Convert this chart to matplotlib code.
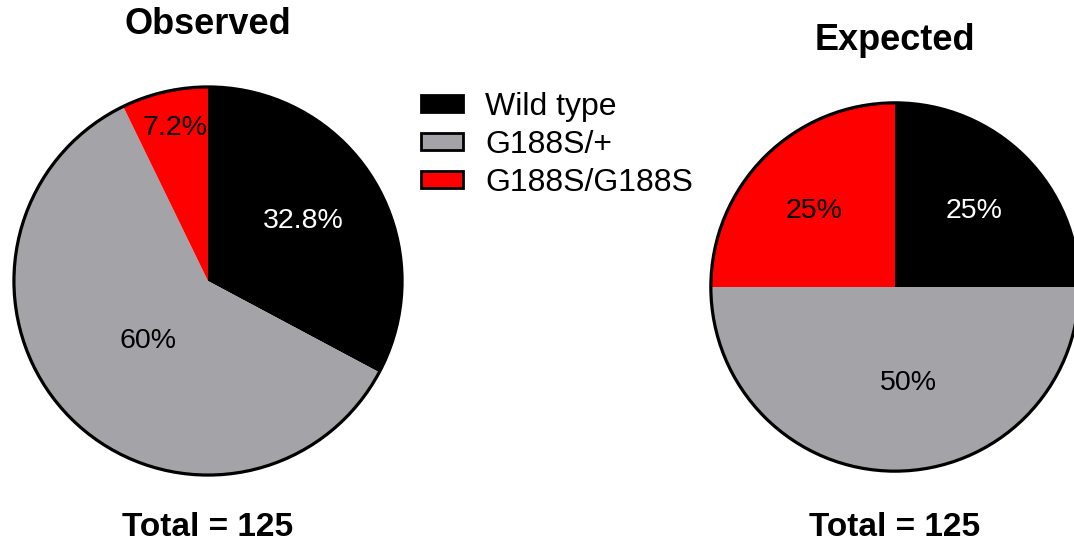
import matplotlib
matplotlib.use("Agg")
import matplotlib.pyplot as plt
from matplotlib.patches import Patch, Circle

plt.rcParams['font.family'] = ['Liberation Sans', 'DejaVu Sans']

genotypes = ["Wild type", "G188S/+", "G188S/G188S"]
colors = ["#000000", "#a4a3a7", "#ff0000"]
observed = [32.8, 60.0, 7.2]
expected = [25.0, 50.0, 25.0]
total = 125

W, H = 1074, 546
fig = plt.figure(figsize=(W / 100, H / 100), dpi=100)


def pie_axes(cx, cy, r):
    # axes box in pixels, centred on the pie, y measured from top
    return fig.add_axes([(cx - r) / W, (H - cy - r) / H, 2 * r / W, 2 * r / H])


def draw_pie(ax, values, label_pos, label_colors):
    wedges, _ = ax.pie(values, colors=colors, startangle=90, counterclock=False,
                       radius=1, wedgeprops=dict(linewidth=0))
    ax.add_patch(Circle((0, 0), 1, fill=False, edgecolor="black", linewidth=2.3))
    for v, (x, y), c in zip(values, label_pos, label_colors):
        ax.text(x, y, f"{v:g}%", color=c, fontsize=20.5, ha="center", va="center")
    ax.set_xlim(-1.01, 1.01)
    ax.set_ylim(-1.01, 1.01)
    ax.set_aspect("equal")
    ax.axis("off")


ax1 = pie_axes(208, 281, 196)
draw_pie(ax1, observed, [(0.49, 0.31), (-0.31, -0.31), (-0.17, 0.79)],
         ["white", "black", "black"])

ax2 = pie_axes(895, 287, 186)
draw_pie(ax2, expected, [(0.43, 0.41), (0.07, -0.52), (-0.44, 0.41)],
         ["white", "black", "black"])

fig.text(208 / W, 1 - 24 / H, "Observed", fontsize=26, fontweight="bold",
         ha="center", va="center")
fig.text(895 / W, 1 - 40 / H, "Expected", fontsize=26, fontweight="bold",
         ha="center", va="center")
fig.text(208 / W, 1 - 528 / H, f"Total = {total}", fontsize=24, fontweight="bold",
         ha="center", va="center")
fig.text(895 / W, 1 - 528 / H, f"Total = {total}", fontsize=24, fontweight="bold",
         ha="center", va="center")

handles = [Patch(facecolor=c, edgecolor="black", linewidth=2) for c in colors]
fig.legend(handles, genotypes, loc="upper left",
           bbox_to_anchor=(421 / W, 1 - 92 / H), frameon=False, fontsize=23,
           handlelength=1.3, handleheight=0.44, handletextpad=0.7,
           labelspacing=0.25, borderaxespad=0, borderpad=0)

fig.savefig("out.png", dpi=100)
